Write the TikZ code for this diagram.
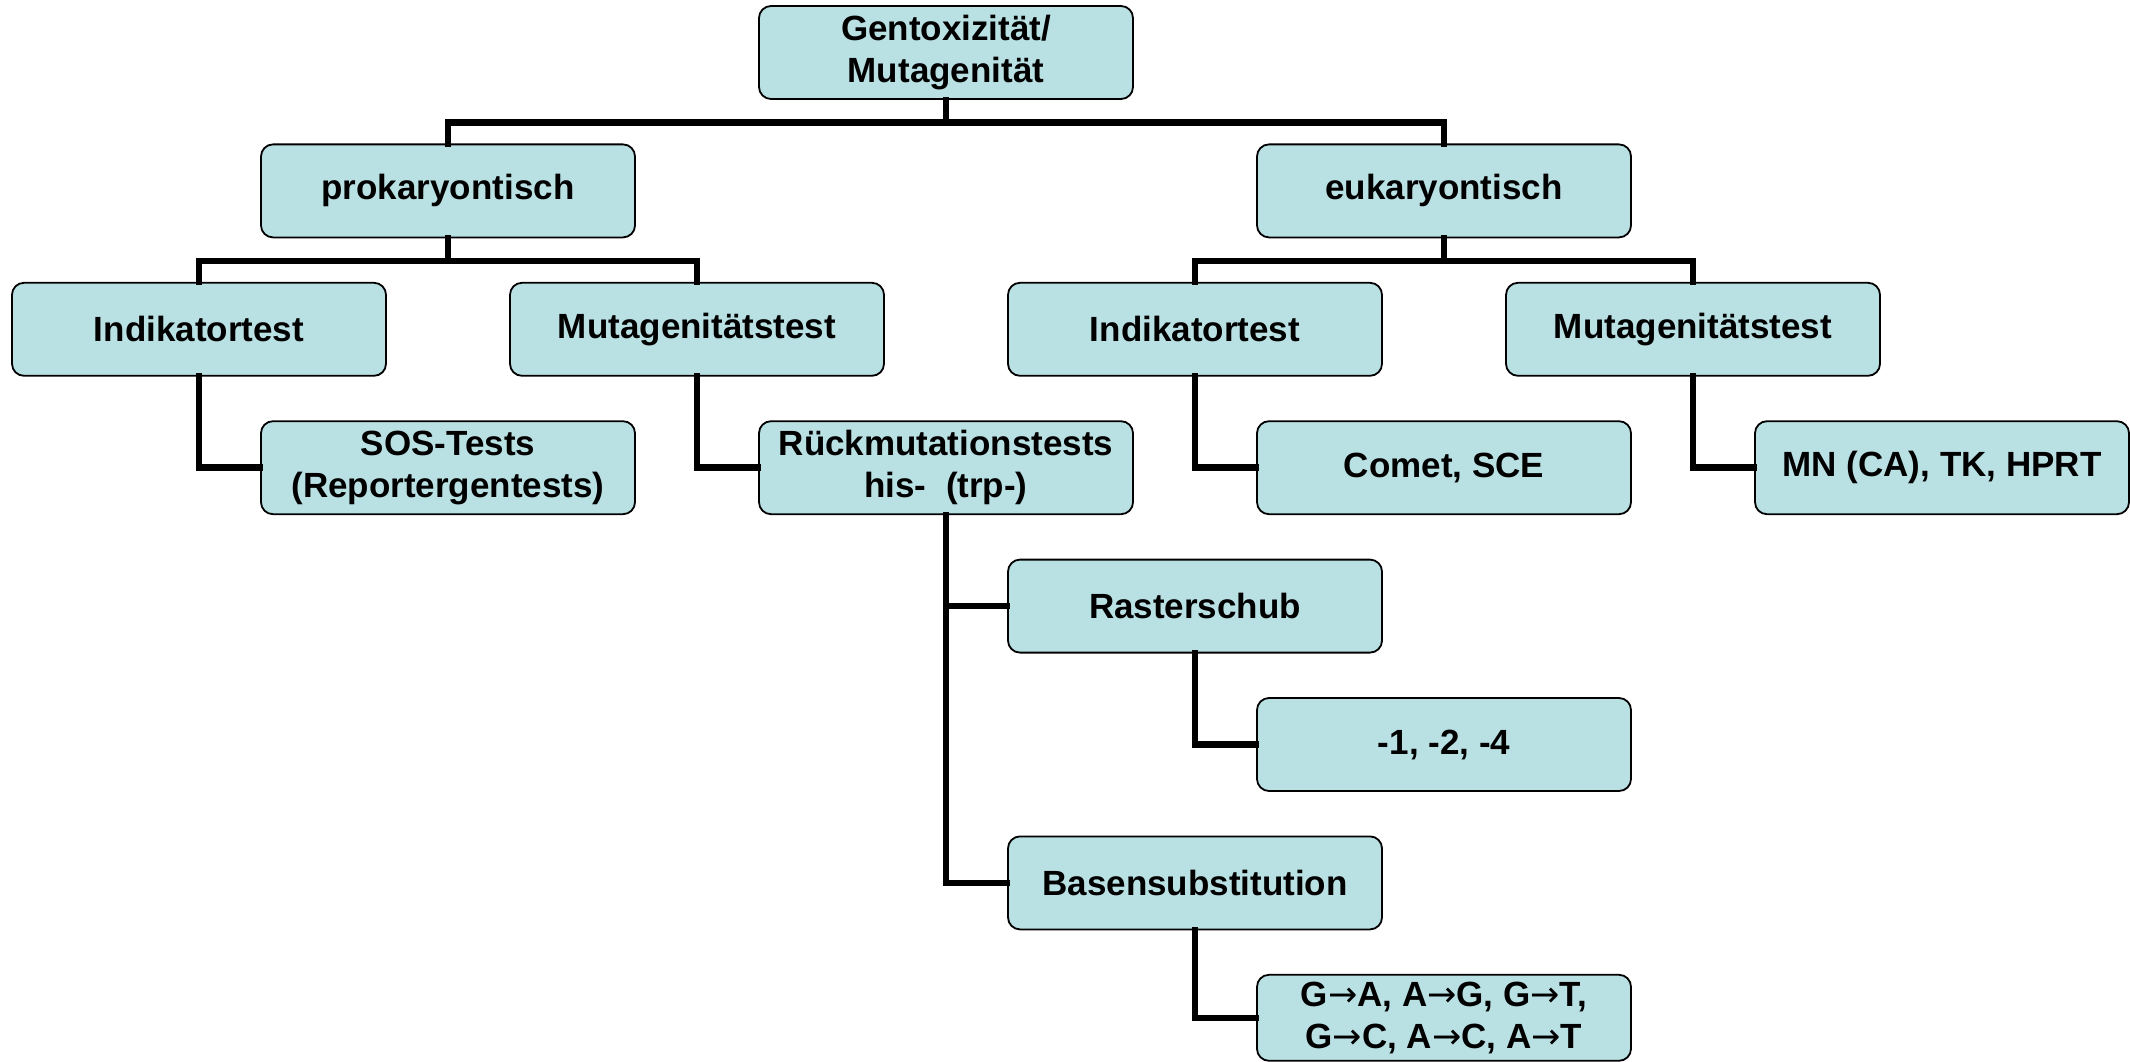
\documentclass[tikz,border=0pt]{standalone}
\usepackage{fontspec}
\setmainfont{Liberation Sans}
\newfontfamily\arrowfont{DejaVu Sans}
\usetikzlibrary{calc}

\definecolor{boxfill}{RGB}{185,224,227}

\begin{document}
\begin{tikzpicture}[x=1pt,y=-1pt]
    % --- Dimensions (one unit = one pixel of the sketch) ---
    \def\TotalW{2130}     % Total Width
    \def\TotalH{1062}     % Total Height
    \def\BoxW{374}        % Width of every box
    \def\BoxH{93}         % Height of every box
    \def\LeftX{12}        % Left edge of the first column
    \def\TopY{6}          % Top edge of the first row
    \def\ColStep{249}     % Horizontal distance between columns
    \def\RowStep{138.4}   % Vertical distance between rows

    % --- Derived positions ---
    \pgfmathsetmacro{\ColA}{\LeftX+\BoxW/2}
    \pgfmathsetmacro{\RowA}{\TopY+\BoxH/2}
    \pgfmathsetmacro{\BusDrop}{(\RowStep-\BoxH)/2}

    % --- Styles ---
    \tikzset{
        box/.style={
            draw=black,
            fill=boxfill,
            line width=1.8pt,
            rounded corners=12pt,
            minimum width=\BoxW pt,
            minimum height=\BoxH pt,
            inner sep=0pt,
            align=center,
            font=\bfseries\fontsize{35}{42}\selectfont
        },
        link/.style={
            line width=6.5pt,
            line cap=rect
        }
    }
    \def\to{{\arrowfont\mdseries →}}

    \useasboundingbox (0,0) rectangle (\TotalW,\TotalH);

    % =========================================================
    % 1) BOXES
    % =========================================================

    % --- Root ---
    \node[box] (gento) at ({\ColA+3*\ColStep},\RowA) {Gentoxizität/\\Mutagenität};

    % --- Kingdom level ---
    \node[box] (prok) at ({\ColA+1*\ColStep},{\RowA+\RowStep}) {prokaryontisch};
    \node[box] (euk)  at ({\ColA+5*\ColStep},{\RowA+\RowStep}) {eukaryontisch};

    % --- Test type level ---
    \node[box] (prokInd) at ({\ColA+0*\ColStep},{\RowA+2*\RowStep}) {Indikatortest};
    \node[box] (prokMut) at ({\ColA+2*\ColStep},{\RowA+2*\RowStep}) {Mutagenitätstest};
    \node[box] (eukInd)  at ({\ColA+4*\ColStep},{\RowA+2*\RowStep}) {Indikatortest};
    \node[box] (eukMut)  at ({\ColA+6*\ColStep},{\RowA+2*\RowStep}) {Mutagenitätstest};

    % --- Concrete tests ---
    \node[box] (sos)   at ({\ColA+1*\ColStep},{\RowA+3*\RowStep}) {SOS-Tests\\(Reportergentests)};
    \node[box] (rueck) at ({\ColA+3*\ColStep},{\RowA+3*\RowStep}) {Rückmutationstests\\his-\ \ (trp-)};
    \node[box] (comet) at ({\ColA+5*\ColStep},{\RowA+3*\RowStep}) {Comet, SCE};
    \node[box] (mn)    at ({\ColA+7*\ColStep},{\RowA+3*\RowStep}) {MN (CA), TK, HPRT};

    % --- Mutation kinds ---
    \node[box] (raster)    at ({\ColA+4*\ColStep},{\RowA+4*\RowStep}) {Rasterschub};
    \node[box] (rasterVal) at ({\ColA+5*\ColStep},{\RowA+5*\RowStep}) {-1, -2, -4};
    \node[box] (basen)     at ({\ColA+4*\ColStep},{\RowA+6*\RowStep}) {Basensubstitution};
    \node[box, minimum height=86pt] (basenVal) at ({\ColA+5*\ColStep},{\TopY+7*\RowStep+43})
        {G\to A, A\to G, G\to T,\\G\to C, A\to C, A\to T};

    % =========================================================
    % 2) CONNECTORS
    % =========================================================

    % Tree buses
    \draw[link] (gento.south) -- ++(0,\BusDrop) -| (prok.north);
    \draw[link] (gento.south) -- ++(0,\BusDrop) -| (euk.north);
    \draw[link] (prok.south) -- ++(0,\BusDrop) -| (prokInd.north);
    \draw[link] (prok.south) -- ++(0,\BusDrop) -| (prokMut.north);
    \draw[link] (euk.south) -- ++(0,\BusDrop) -| (eukInd.north);
    \draw[link] (euk.south) -- ++(0,\BusDrop) -| (eukMut.north);

    % Elbows to the side
    \draw[link] (prokInd.south) |- (sos.west);
    \draw[link] (prokMut.south) |- (rueck.west);
    \draw[link] (eukInd.south) |- (comet.west);
    \draw[link] (eukMut.south) |- (mn.west);
    \draw[link] (rueck.south) |- (raster.west);
    \draw[link] (rueck.south) |- (basen.west);
    \draw[link] (raster.south) |- (rasterVal.west);
    \draw[link] (basen.south) |- (basenVal.west);

\end{tikzpicture}
\end{document}
